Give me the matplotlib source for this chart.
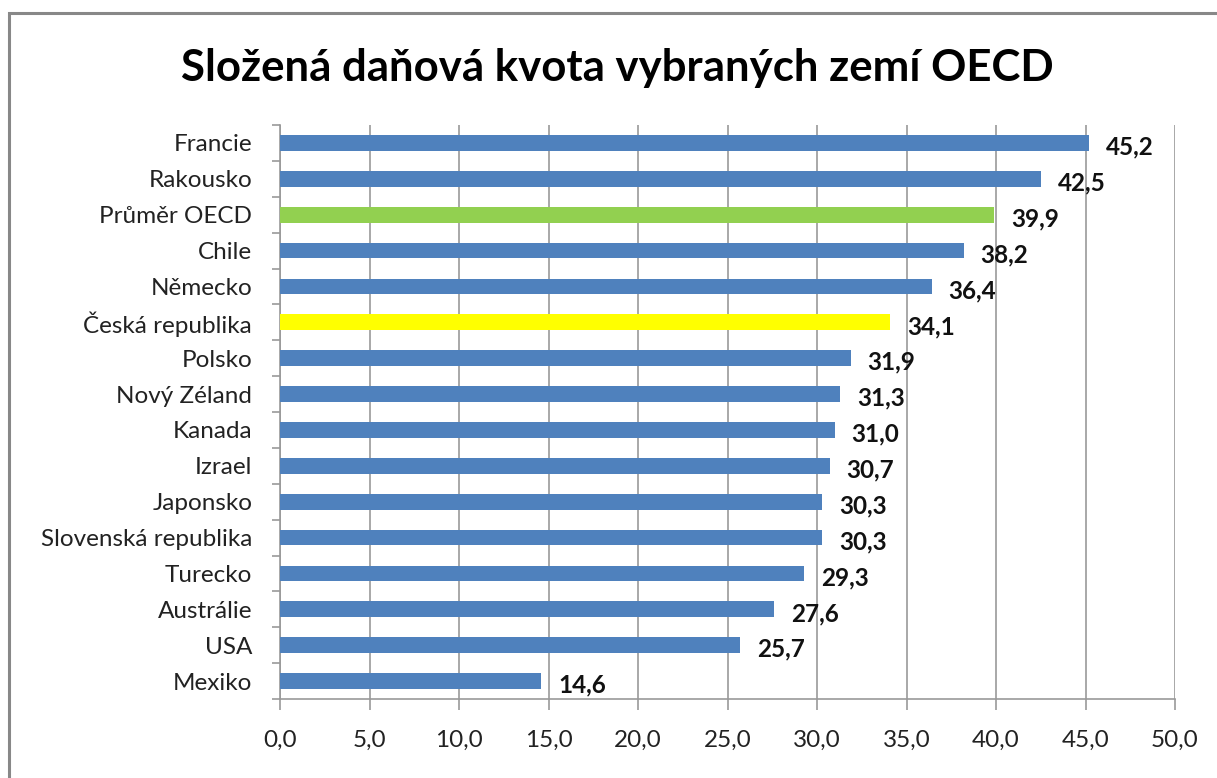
import matplotlib
matplotlib.use("Agg")
import matplotlib.pyplot as plt
from matplotlib.patches import Rectangle

countries = ["Francie", "Rakousko", "Průměr OECD", "Chile", "Německo", "Česká republika",
             "Polsko", "Nový Zéland", "Kanada", "Izrael", "Japonsko", "Slovenská republika",
             "Turecko", "Austrálie", "USA", "Mexiko"]
values = [45.2, 42.5, 39.9, 38.2, 36.4, 34.1, 31.9, 31.3, 31.0, 30.7, 30.3, 30.3,
          29.3, 27.6, 25.7, 14.6]
x_ticks = [0, 5, 10, 15, 20, 25, 30, 35, 40, 45, 50]
title = "Složená daňová kvota vybraných zemí OECD"

BLUE = "#4F81BD"
GREEN = "#92D050"
YELLOW = "#FFFF00"
colors = []
for c in countries:
    if c == "Průměr OECD":
        colors.append(GREEN)
    elif c == "Česká republika":
        colors.append(YELLOW)
    else:
        colors.append(BLUE)

plt.rcParams['font.family'] = ['Lato', 'DejaVu Sans']

fig = plt.figure(figsize=(12.17, 7.78), dpi=100)
ax = fig.add_axes([280/1217, 1-699/778, (1175-280)/1217, (699-125)/778])

pos = list(range(len(countries)))
ax.barh(pos, values, height=0.44, color=colors, zorder=3)
ax.set_ylim(len(countries)-0.5, -0.5)
ax.set_xlim(0, 50)

ax.set_xticks(x_ticks)
ax.set_xticklabels([f"{t:.1f}".replace(".", ",") for t in x_ticks], fontsize=17.5,
                   color="#222222")
ax.set_yticks(pos)
ax.set_yticklabels(countries, fontsize=17.5, color="#222222")
ax.set_yticks([p - 0.5 for p in pos] + [len(countries) - 0.5], minor=True)

ax.tick_params(axis='y', which='major', length=0, pad=20)
ax.tick_params(axis='y', which='minor', length=6, color="#999999", direction='out', width=1.2)
ax.tick_params(axis='x', which='major', length=8, color="#999999", width=1.2, pad=14)

ax.grid(axis='x', color="#999999", linewidth=1.2, zorder=0)
for s in ['top', 'right']:
    ax.spines[s].set_visible(False)
for s in ['left', 'bottom']:
    ax.spines[s].set_color("#999999")
    ax.spines[s].set_linewidth(1.2)

for p, v in zip(pos, values):
    ax.annotate(f"{v:.1f}".replace(".", ","), xy=(v, p), xytext=(12, -3),
                textcoords='offset points', ha='left', va='center',
                fontsize=17.5, fontweight='bold', color="#111111", zorder=4)

fig.text(0.507, 1-68/778, title, ha='center', va='center', fontsize=31.5,
         fontweight='bold', color="#000000")

fig.patches.append(Rectangle((9/1217, -0.05), 1.1, 1.05 - 13/778, transform=fig.transFigure,
                             fill=False, edgecolor="#888888", linewidth=2.2))

fig.savefig("out.png", dpi=100)
